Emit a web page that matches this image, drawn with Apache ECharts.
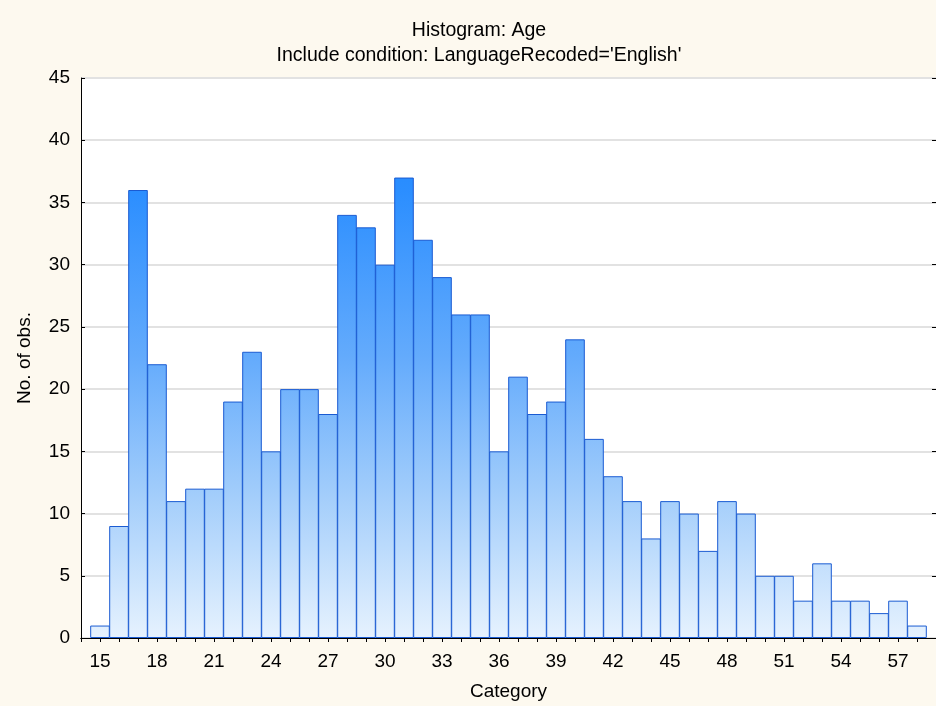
<!DOCTYPE html>
<html lang="en">
<head>
    <meta charset="UTF-8">
    <title>Histogram: Age</title>
    <script src="https://cdn.jsdelivr.net/npm/echarts@6/dist/echarts.min.js"></script>
    <style>
        html, body { margin: 0; padding: 0; background: #fdf9ef; }
    </style>
</head>
<body>
<div id="main" style="width: 936px;height:706px;"></div>
<script>
    // 年龄分组及对应频数
    const ages = [15,16,17,18,19,20,21,22,23,24,25,26,27,28,29,30,31,32,33,34,35,36,
                  37,38,39,40,41,42,43,44,45,46,47,48,49,50,51,52,53,54,55,56,57,58];
    const counts = [1,9,36,22,11,12,12,19,23,15,20,20,18,34,33,30,37,32,29,26,26,15,
                    21,18,19,24,16,13,11,8,11,10,7,11,10,5,5,3,6,3,3,2,3,1];
    const yTicks = [0,5,10,15,20,25,30,35,40,45];

    const font = "'Liberation Sans', Arial, sans-serif";
    const barData = ages.map((a, i) => [a, counts[i]]);

    const fill = new echarts.graphic.LinearGradient(0, 78, 0, 638, [
        {offset: 0, color: '#1482ff'},
        {offset: 0.2, color: '#2b8eff'},
        {offset: 0.5, color: '#64abfc'},
        {offset: 0.75, color: '#a4cefb'},
        {offset: 1, color: '#e6f2fe'}
    ], true);

    const myChart = echarts.init(document.getElementById('main'));
    const option = {
        backgroundColor: '#fdf9ef',
        animation: false,
        title: {
            text: 'Histogram: Age\nInclude condition: LanguageRecoded=\'English\'',
            left: 474,
            top: 13,
            textAlign: 'center',
            textStyle: {
                fontFamily: font, fontSize: 19.5, fontWeight: 'normal',
                color: '#000', lineHeight: 25
            }
        },
        grid: {
            left: 81, right: -3, top: 78, bottom: 68,
            show: true, backgroundColor: '#ffffff', borderWidth: 0
        },
        xAxis: [
            {
                type: 'value', position: 'bottom',
                min: 14, max: 59, interval: 1,
                name: 'Category', nameLocation: 'middle', nameGap: 44,
                nameTextStyle: {fontFamily: font, fontSize: 19, color: '#000'},
                axisLine: {lineStyle: {color: '#000', width: 1}},
                axisTick: {inside: true, length: 4, lineStyle: {color: '#000'}},
                axisLabel: {
                    fontFamily: font, fontSize: 19, color: '#000', margin: 14,
                    showMaxLabel: false, showMinLabel: true,
                    formatter: v => (v >= 15 && v <= 57 && (v - 15) % 3 === 0) ? String(v) : ''
                },
                splitLine: {show: false}
            },
            {
                type: 'value', position: 'top',
                min: 14, max: 59, interval: 1,
                axisLine: {lineStyle: {color: '#000', width: 1}},
                axisTick: {inside: true, length: 4, lineStyle: {color: '#000'}},
                axisLabel: {show: false},
                splitLine: {show: false}
            }
        ],
        yAxis: [
            {
                type: 'value', position: 'left',
                min: yTicks[0], max: yTicks[yTicks.length - 1], interval: 5,
                name: 'No. of obs.', nameLocation: 'middle', nameGap: 47,
                nameTextStyle: {fontFamily: font, fontSize: 19, color: '#000'},
                axisLine: {show: true, lineStyle: {color: '#000', width: 1}},
                axisTick: {show: true, inside: true, length: 4, lineStyle: {color: '#000'}},
                axisLabel: {fontFamily: font, fontSize: 19, color: '#000', margin: 11},
                splitLine: {show: true, lineStyle: {color: '#e2e2e2', width: 2}}
            },
            {
                type: 'value', position: 'right',
                min: 0, max: 45, interval: 5,
                axisLine: {show: true, lineStyle: {color: '#000', width: 1}},
                axisTick: {show: true, inside: true, length: 4, lineStyle: {color: '#000'}},
                axisLabel: {show: false},
                splitLine: {show: false}
            }
        ],
        series: [
            {
                type: 'bar',
                xAxisIndex: 0,
                yAxisIndex: 0,
                data: barData,
                barWidth: 19.6,
                itemStyle: {
                    color: fill,
                    borderColor: '#1a5bd2',
                    borderWidth: 1
                }
            }
        ]
    };
    myChart.setOption(option);
</script>
</body>
</html>
